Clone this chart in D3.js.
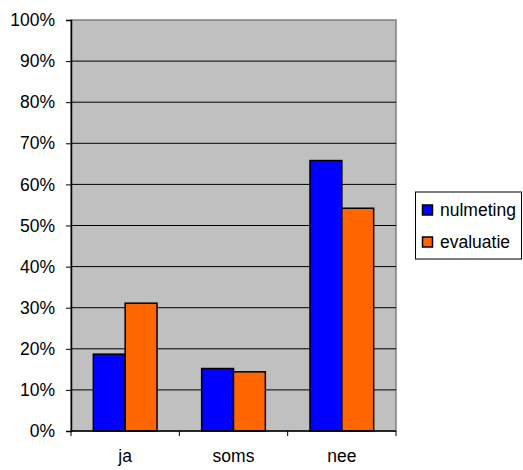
<!DOCTYPE html>
<html><head><meta charset="utf-8">
<script src="https://cdn.jsdelivr.net/npm/d3@7"></script>
<style>body{margin:0;background:#fff}svg{display:block}text{font-family:"Liberation Sans",Arial,sans-serif}</style>
</head><body>
<script>
const categories = ["ja", "soms", "nee"];
const seriesNames = ["nulmeting", "evaluatie"];
const nulmeting = [18.7, 15.2, 65.8];
const evaluatie = [31.1, 14.4, 54.2];
const yTicks = [0,10,20,30,40,50,60,70,80,90,100];
const colors = ["#0000FF", "#FF6600"];
const seriesValues = [nulmeting, evaluatie];

const W = 523, H = 470;
const L = 71, R = 396, T = 20, B = 431;
const svg = d3.select("body").append("svg").attr("width", W).attr("height", H);

const y = d3.scaleLinear().domain([0, 100]).range([B, T]);
const x0 = d3.scaleBand().domain(categories).range([L, R]).padding(0);
const bw = x0.bandwidth();
const x1 = d3.scaleBand().domain(seriesNames).range([bw * 0.206, bw * 0.794]).padding(0);

svg.append("rect").attr("x", L).attr("y", T).attr("width", R - L).attr("height", B - T)
  .attr("fill", "#C0C0C0").attr("stroke", "#808080").attr("stroke-width", 1.5);

svg.append("g").selectAll("line").data(yTicks.filter(d => d > 0 && d < 100)).join("line")
  .attr("x1", L).attr("x2", R).attr("y1", d => y(d)).attr("y2", d => y(d))
  .attr("stroke", "#000").attr("stroke-width", 1);

const yAxis = d3.axisLeft(y).tickValues(yTicks).tickFormat(d => d + "%").tickSize(5).tickPadding(11);
const gy = svg.append("g").attr("transform", `translate(${L},0)`).call(yAxis);
gy.select(".domain").attr("stroke", "#000").attr("stroke-width", 1.5);
gy.selectAll("line").attr("stroke", "#000");
gy.selectAll("text").attr("font-size", 17.5).attr("fill", "#000").style("font-family", "Liberation Sans, Arial, sans-serif");

// bars
categories.forEach((c, i) => {
  seriesNames.forEach((s, j) => {
    svg.append("rect")
      .attr("x", x0(c) + x1(s))
      .attr("y", y(seriesValues[j][i]))
      .attr("width", x1.bandwidth())
      .attr("height", B - y(seriesValues[j][i]))
      .attr("fill", colors[j]).attr("stroke", "#000").attr("stroke-width", 1.5);
  });
});

// x axis
const gx = svg.append("g").attr("transform", `translate(0,${B})`);
gx.append("line").attr("x1", L).attr("x2", R).attr("stroke", "#000").attr("stroke-width", 1.5);
const bounds = categories.map(c => x0(c)).concat([x0(categories[categories.length - 1]) + bw]);
gx.selectAll("line.tk").data(bounds).join("line").attr("class", "tk")
  .attr("x1", d => d).attr("x2", d => d).attr("y1", 0).attr("y2", 5).attr("stroke", "#000");
gx.selectAll("text").data(categories).join("text")
  .attr("x", d => x0(d) + bw / 2).attr("y", 31).attr("text-anchor", "middle")
  .attr("font-size", 17.5).text(d => d);

// legend
const lg = svg.append("g");
lg.append("rect").attr("x", 415.5).attr("y", 192).attr("width", 106).attr("height", 67)
  .attr("fill", "#fff").attr("stroke", "#000").attr("stroke-width", 1);
seriesNames.forEach((s, j) => {
  lg.append("rect").attr("x", 422.5).attr("y", 205 + j * 32).attr("width", 10).attr("height", 10)
    .attr("fill", colors[j]).attr("stroke", "#000").attr("stroke-width", 1.5);
  lg.append("text").attr("x", 440).attr("y", 216 + j * 32).attr("font-size", 17.5).text(s);
});
</script>
</body></html>
